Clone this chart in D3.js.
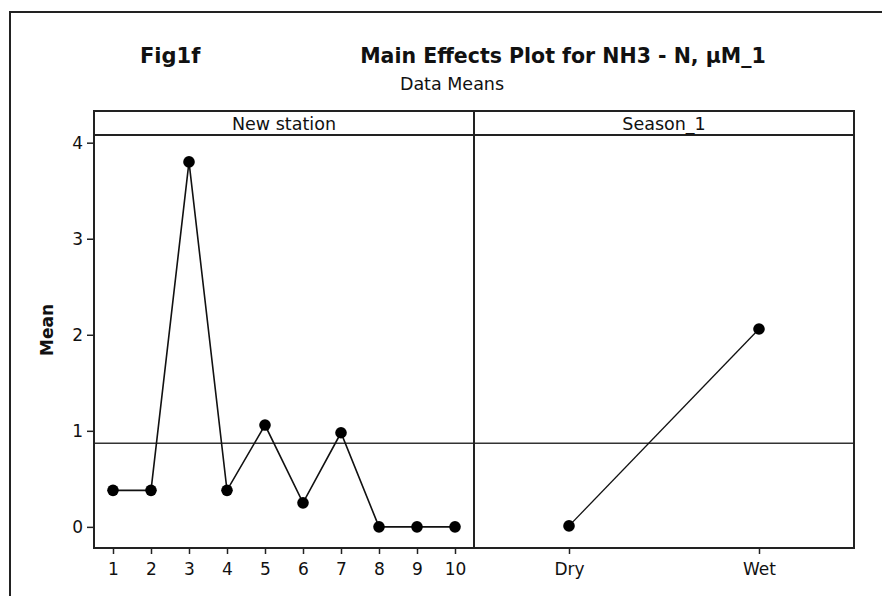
<!DOCTYPE html>
<html>
<head>
<meta charset="utf-8">
<script src="https://cdn.jsdelivr.net/npm/d3@7"></script>
<style>
  body { margin: 0; background: #fff; }
  text { font-family: "DejaVu Sans", Verdana, sans-serif; fill: #111; }
</style>
</head>
<body>
<div class="chart"></div>
<script>
// Main effects plot: station means and season means, with the grand mean as reference line

var stations = ["1", "2", "3", "4", "5", "6", "7", "8", "9", "10"];
var stationMeans = [0.38, 0.38, 3.80, 0.38, 1.06, 0.25, 0.98, 0.0, 0.0, 0.0];
var seasons = ["Dry", "Wet"];
var seasonMeans = [0.01, 2.06];
var grandMean = 0.87;
var yTicks = [0, 1, 2, 3, 4];

var svgWidth = 882;
var svgHeight = 596;

// panel geometry
var left = 94, right = 854, split = 474;
var stripTop = 111, plotTop = 135, plotBottom = 548;

var svg = d3.select(".chart")
  .append("svg")
  .attr("width", svgWidth)
  .attr("height", svgHeight);

// outer frame (runs off the right and bottom edges)
svg.append("rect")
  .attr("x", 10).attr("y", 12)
  .attr("width", 900).attr("height", 620)
  .attr("fill", "none")
  .attr("stroke", "#222")
  .attr("stroke-width", 2);

// titles
svg.append("text")
  .attr("x", 140).attr("y", 63)
  .attr("font-size", "21px").attr("font-weight", "bold")
  .text("Fig1f");

svg.append("text")
  .attr("x", 563).attr("y", 63)
  .attr("text-anchor", "middle")
  .attr("font-size", "20.5px").attr("font-weight", "bold")
  .text("Main Effects Plot for NH3 - N, μM_1");

svg.append("text")
  .attr("x", 452).attr("y", 90)
  .attr("text-anchor", "middle")
  .attr("font-size", "17.5px")
  .text("Data Means");

// scales
var yScale = d3.scaleLinear()
  .domain([-0.22, 4.08])
  .range([plotBottom, plotTop]);

var xStation = d3.scalePoint()
  .domain(stations)
  .range([left, split])
  .padding(0.5);

var xSeason = d3.scalePoint()
  .domain(seasons)
  .range([split, right])
  .padding(0.5);

// grand mean reference line across both panels
svg.append("line")
  .attr("x1", left).attr("x2", right)
  .attr("y1", yScale(grandMean)).attr("y2", yScale(grandMean))
  .attr("stroke", "#333")
  .attr("stroke-width", 1.5);

// axes
var leftAxis = d3.axisLeft(yScale).tickValues(yTicks).tickFormat(d3.format("d")).tickSize(7).tickPadding(4);
var stationAxis = d3.axisBottom(xStation).tickSize(6).tickPadding(9);
var seasonAxis = d3.axisBottom(xSeason).tickSize(6).tickPadding(9);

function styleAxis(g) {
  g.select(".domain").remove();
  g.selectAll(".tick line").attr("stroke", "#222").attr("stroke-width", 1.5);
  g.selectAll(".tick text")
    .attr("font-family", "DejaVu Sans")
    .attr("font-size", "17px")
    .attr("fill", "#222");
}

svg.append("g")
  .attr("transform", "translate(" + left + ",0)")
  .call(leftAxis)
  .call(styleAxis);

svg.append("g")
  .attr("transform", "translate(0," + plotBottom + ")")
  .call(stationAxis)
  .call(styleAxis);

svg.append("g")
  .attr("transform", "translate(0," + plotBottom + ")")
  .call(seasonAxis)
  .call(styleAxis);

// y label
svg.append("text")
  .attr("transform", "translate(53,330) rotate(-90)")
  .attr("text-anchor", "middle")
  .attr("font-size", "17px").attr("font-weight", "bold")
  .text("Mean");

// panel frame, strip and divider
svg.append("rect")
  .attr("x", left).attr("y", stripTop)
  .attr("width", right - left).attr("height", plotBottom - stripTop)
  .attr("fill", "none")
  .attr("stroke", "#222")
  .attr("stroke-width", 2);

svg.append("line")
  .attr("x1", left).attr("x2", right)
  .attr("y1", plotTop).attr("y2", plotTop)
  .attr("stroke", "#222").attr("stroke-width", 2);

svg.append("line")
  .attr("x1", split).attr("x2", split)
  .attr("y1", stripTop).attr("y2", plotBottom)
  .attr("stroke", "#222").attr("stroke-width", 2);

svg.append("text")
  .attr("x", (left + split) / 2).attr("y", 130)
  .attr("text-anchor", "middle")
  .attr("font-size", "17.5px")
  .text("New station");

svg.append("text")
  .attr("x", (split + right) / 2).attr("y", 130)
  .attr("text-anchor", "middle")
  .attr("font-size", "17.5px")
  .text("Season_1");

// station panel
var stationData = stations.map(function(s, i) { return { key: s, value: stationMeans[i] }; });
var seasonData = seasons.map(function(s, i) { return { key: s, value: seasonMeans[i] }; });

var stationLine = d3.line()
  .x(function(d) { return xStation(d.key); })
  .y(function(d) { return yScale(d.value); });

var seasonLine = d3.line()
  .x(function(d) { return xSeason(d.key); })
  .y(function(d) { return yScale(d.value); });

svg.append("path")
  .datum(stationData)
  .attr("d", stationLine)
  .attr("fill", "none")
  .attr("stroke", "#111")
  .attr("stroke-width", 1.6);

svg.append("path")
  .datum(seasonData)
  .attr("d", seasonLine)
  .attr("fill", "none")
  .attr("stroke", "#111")
  .attr("stroke-width", 1.3);

svg.selectAll(".station-pt")
  .data(stationData)
  .enter().append("circle")
  .attr("class", "station-pt")
  .attr("cx", function(d) { return xStation(d.key); })
  .attr("cy", function(d) { return yScale(d.value); })
  .attr("r", 5.8)
  .attr("fill", "#000");

svg.selectAll(".season-pt")
  .data(seasonData)
  .enter().append("circle")
  .attr("class", "season-pt")
  .attr("cx", function(d) { return xSeason(d.key); })
  .attr("cy", function(d) { return yScale(d.value); })
  .attr("r", 5.8)
  .attr("fill", "#000");
</script>
</body>
</html>
